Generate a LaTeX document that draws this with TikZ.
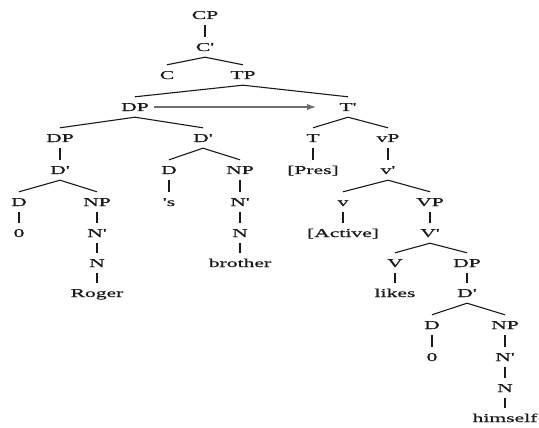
\documentclass[tikz,border=0pt]{standalone}
\usepackage{fontspec}
\usepackage{tikz}
\setmainfont[FakeStretch=1.8, FakeBold=0.6, Ligatures=TeXOff]{Liberation Serif}
\usetikzlibrary{arrows.meta}
\definecolor{Ink}{HTML}{1A1A1A}
\definecolor{MoveGray}{HTML}{6E6E6E}

\begin{document}
\begin{tikzpicture}[
    x=1pt, y=-1pt,
    cat/.style={inner xsep=1pt, inner ysep=6pt, text height=8pt, text depth=0pt, text=Ink, font=\fontsize{12}{14}\selectfont},
    branch/.style={line width=1.1pt, color=Ink},
    mvt/.style={-{Latex[length=3.2mm, width=2.2mm]}, line width=1.3pt, color=MoveGray, shorten <=4pt, shorten >=22pt}
]
\useasboundingbox (0,0) rectangle (539,428);

% CP spine
\node[cat] (CP) at (205,15) {CP};
\node[cat] (Cbar) at (205,47) {C'};
\node[cat] (C) at (167,75) {C};
\node[cat] (TP) at (243,75) {TP};

% Subject DP
\node[cat] (DPsubj) at (135,107) {DP};
\node[cat] (DPposs) at (60,138) {DP};
\node[cat] (Dbarposs) at (203,138) {D'};
\node[cat] (Dbarrog) at (60,170) {D'};
\node[cat] (Drog) at (19,202) {D};
\node[cat] (NProg) at (97,202) {NP};
\node[cat] (zerorog) at (19,233) {0};
\node[cat] (Nbarrog) at (97,233) {N'};
\node[cat] (Nrog) at (97,263) {N};
\node[cat] (roger) at (97,293) {Roger};
\node[cat] (Ds) at (169,170) {D};
\node[cat] (NPbro) at (240,170) {NP};
\node[cat] (poss) at (169,202) {'s};
\node[cat] (Nbarbro) at (240,202) {N'};
\node[cat] (Nbro) at (240,233) {N};
\node[cat] (brother) at (240,263) {brother};

% T' and the verb phrase
\node[cat] (Tbar) at (348,107) {T'};
\node[cat] (T) at (313,138) {T};
\node[cat] (vP) at (388,138) {vP};
\node[cat] (pres) at (313,170) {[Pres]};
\node[cat] (vbar) at (388,170) {v'};
\node[cat] (v) at (343,202) {v};
\node[cat] (VP) at (430,202) {VP};
\node[cat] (active) at (343,233) {[Active]};
\node[cat] (Vbar) at (430,233) {V'};
\node[cat] (V) at (395,263) {V};
\node[cat] (DPobj) at (467,263) {DP};
\node[cat] (likes) at (395,293) {likes};
\node[cat] (Dbarobj) at (467,293) {D'};
\node[cat] (Dobj) at (432,325) {D};
\node[cat] (NPobj) at (505,325) {NP};
\node[cat] (zeroobj) at (432,357) {0};
\node[cat] (Nbarobj) at (505,357) {N'};
\node[cat] (Nobj) at (505,388) {N};
\node[cat] (himself) at (505,418) {himself};

% Branches
\foreach \p/\c in {CP/Cbar, Cbar/C, Cbar/TP, TP/DPsubj, TP/Tbar,
    DPsubj/DPposs, DPsubj/Dbarposs, DPposs/Dbarrog, Dbarrog/Drog, Dbarrog/NProg,
    Drog/zerorog, NProg/Nbarrog, Nbarrog/Nrog, Nrog/roger,
    Dbarposs/Ds, Dbarposs/NPbro, Ds/poss, NPbro/Nbarbro, Nbarbro/Nbro, Nbro/brother,
    Tbar/T, Tbar/vP, T/pres, vP/vbar, vbar/v, vbar/VP, v/active, VP/Vbar,
    Vbar/V, Vbar/DPobj, V/likes, DPobj/Dbarobj, Dbarobj/Dobj, Dbarobj/NPobj,
    Dobj/zeroobj, NPobj/Nbarobj, Nbarobj/Nobj, Nobj/himself}
    \draw[branch] (\p.south) -- (\c.north);

% Movement
\draw[mvt] (DPsubj.east) -- (Tbar.west);

\end{tikzpicture}
\end{document}
